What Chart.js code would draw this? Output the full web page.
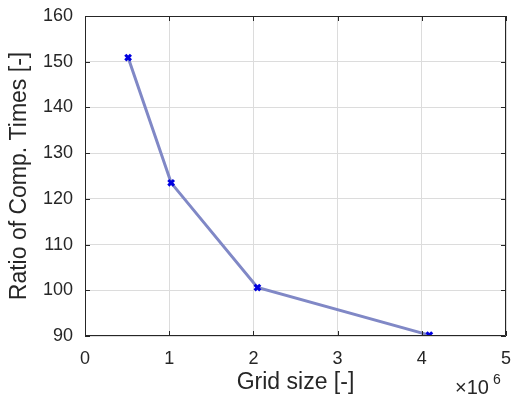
<!DOCTYPE html>
<html>
<head>
<meta charset="utf-8">
<script src="https://cdn.jsdelivr.net/npm/chart.js@4"></script>
<style>
html,body{margin:0;padding:0;background:#fff;}
#wrap{width:513px;height:397px;position:relative;}
</style>
</head>
<body>
<div id="wrap"><canvas id="c" width="513" height="397"></canvas></div>
<script>
const gridSizes = [0.512, 1.023, 2.048, 4.09];
const ratios = [150.9, 123.5, 100.6, 90.2];
const xTicks = [0, 1, 2, 3, 4, 5];
const yTicks = [90, 100, 110, 120, 130, 140, 150, 160];
const xTitle = 'Grid size [-]';
const yTitle = 'Ratio of Comp. Times [-]';
const xExponent = '6';

const FONT = '"Liberation Sans", Arial, Helvetica, sans-serif';
const axisColor = '#262626';

const boxPlugin = {
  id: 'box',
  afterDatasetsDraw(chart) {
    const {ctx, chartArea: a, scales} = chart;
    ctx.save();
    ctx.strokeStyle = axisColor;
    ctx.lineWidth = 1;
    ctx.beginPath();
    ctx.rect(a.left + 0.5, a.top + 0.5, a.right - a.left - 1, a.bottom - a.top - 1);
    ctx.stroke();
    const tl = 5;
    ctx.beginPath();
    xTicks.forEach(v => {
      const px = Math.round(scales.x.getPixelForValue(v)) + 0.5;
      ctx.moveTo(px, a.bottom); ctx.lineTo(px, a.bottom - tl);
      ctx.moveTo(px, a.top); ctx.lineTo(px, a.top + tl);
    });
    yTicks.forEach(v => {
      const py = Math.round(scales.y.getPixelForValue(v)) + 0.5;
      ctx.moveTo(a.left, py); ctx.lineTo(a.left + tl, py);
      ctx.moveTo(a.right, py); ctx.lineTo(a.right - tl, py);
    });
    ctx.stroke();
    // exponent label
    ctx.fillStyle = axisColor;
    ctx.textBaseline = 'alphabetic';
    ctx.textAlign = 'left';
    ctx.font = '20px ' + FONT;
    ctx.fillText('\u00d710', 455, 394);
    ctx.font = '14px ' + FONT;
    ctx.fillText(xExponent, 493, 384);
    ctx.restore();
  }
};

new Chart(document.getElementById('c'), {
  type: 'scatter',
  data: {
    datasets: [{
      data: gridSizes.map((x, i) => ({x, y: ratios[i]})),
      showLine: true,
      borderColor: '#8088c6',
      borderWidth: 3,
      pointStyle: 'crossRot',
      pointRadius: 4,
      pointBorderWidth: 3,
      pointBorderColor: '#0000e0',
      pointBackgroundColor: '#0000e0',
      tension: 0
    }]
  },
  options: {
    responsive: false,
    animation: false,
    devicePixelRatio: 1,
    layout: {padding: {top: 16, right: 4, bottom: 0, left: 0}},
    plugins: {legend: {display: false}, tooltip: {enabled: false}},
    scales: {
      x: {
        type: 'linear', min: 0, max: 5,
        afterBuildTicks: s => { s.ticks = xTicks.map(v => ({value: v})); },
        afterFit: s => { s.height = 61; s.paddingLeft = 0; s.paddingRight = 0; },
        grid: {color: '#dcdcdc', drawTicks: false, lineWidth: 1},
        border: {display: false},
        ticks: {padding: 12, color: axisColor, font: {family: FONT, size: 18}, maxRotation: 0},
        title: {display: true, text: xTitle, color: axisColor, font: {family: FONT, size: 23}, padding: {top: 0, bottom: 1}}
      },
      y: {
        type: 'linear', min: 90, max: 160,
        afterBuildTicks: s => { s.ticks = yTicks.map(v => ({value: v})); },
        afterFit: s => { s.width = 85; s.paddingTop = 0; s.paddingBottom = 0; },
        grid: {color: '#dcdcdc', drawTicks: false, lineWidth: 1},
        border: {display: false},
        ticks: {padding: 12, color: axisColor, font: {family: FONT, size: 18}},
        title: {display: true, text: yTitle, color: axisColor, font: {family: FONT, size: 23}, padding: {top: 6, bottom: 0}}
      }
    }
  },
  plugins: [boxPlugin]
});
</script>
</body>
</html>
